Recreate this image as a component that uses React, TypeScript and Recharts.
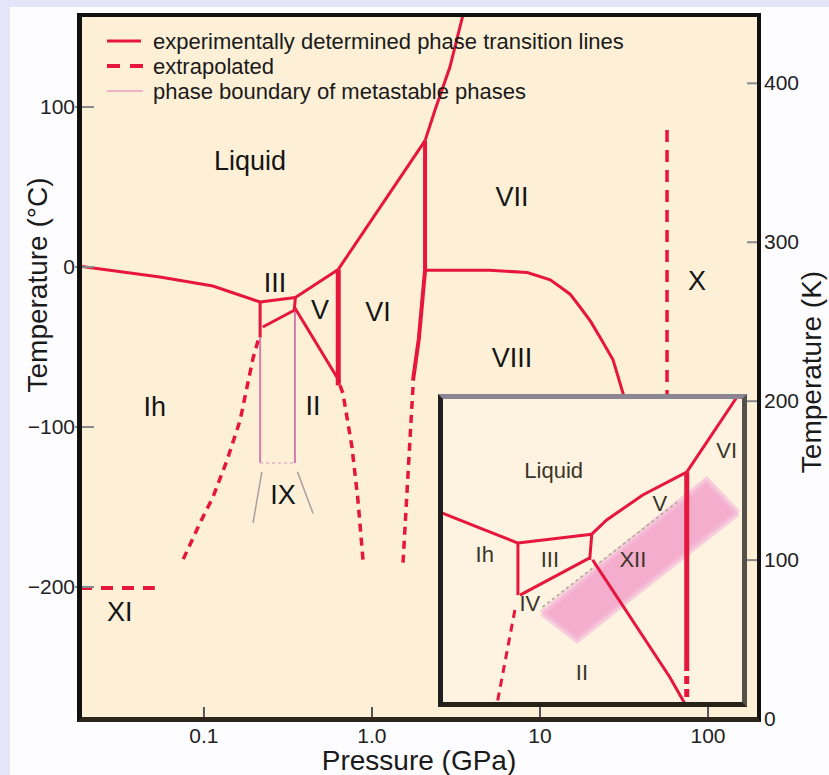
import React from "react";
import {
  ComposedChart,
  Line,
  Area,
  Scatter,
  XAxis,
  YAxis,
  CartesianGrid,
} from "recharts";

// main diagram: pressure (GPa, log) vs temperature (°C)
const ihLiquid = [[0.0183, 0.5], [0.0547, -6.3], [0.113, -11.9], [0.216, -21.9]];
const iiiLiquid = [[0.216, -21.9], [0.35, -19]];
const vLiquid = [[0.35, -19], [0.63, -1.5]];
const viLiquid = [[0.63, -1.5], [2.07, 79]];
const viiLiquid = [[2.07, 79], [2.37, 98], [2.91, 125], [3.48, 157.5]];
const ihIII = [[0.216, -21.9], [0.216, -44]];
const iiiII = [[0.224, -37.5], [0.345, -27]];
const iiiV = [[0.35, -19], [0.345, -27]];
const iiV = [[0.348, -25.6], [0.645, -72]];
const vVI = [[0.63, -1.5], [0.63, -74]];
const viVII = [[2.07, 79], [2.07, -2], [1.9, -45], [1.754, -71]];
const viiVIII = [
  [2.07, -2], [5, -2], [8.4, -3.5], [11.5, -8], [13.2, -12.5], [15.1, -17],
  [17.3, -25], [20, -34], [22.8, -44], [27.2, -58], [31.2, -79], [31.8, -82],
];

// extrapolated (dashed)
const ihIIext = [[0.21, -46], [0.196, -57], [0.164, -96], [0.137, -121], [0.113, -144], [0.0947, -160], [0.075, -183]];
const iiVIext = [[0.645, -74], [0.672, -79], [0.76, -112.5], [0.825, -145.6], [0.884, -183]];
const viiVIIIext = [[1.754, -75], [1.64, -128.75], [1.53, -185]];
const xBoundary = [[57, 85.6], [57, -82]];
const xiBoundary = [[0.0183, -200.6], [0.051, -200.6]];

// metastable boundaries (ice IX)
const ixLeft = [[0.216, -44], [0.216, -122.5]];
const ixRight = [[0.348, -27], [0.348, -122.5]];
const ixTop = [[0.216, -122.5], [0.348, -122.5]];
const ixLeftLow = [[0.221, -128], [0.196, -160]];
const ixRightLow = [[0.36, -128], [0.446, -154]];

const mainLabels: [string, number, number][] = [
  ["Liquid", 0.188, 66], ["III", 0.265, -10], ["V", 0.49, -27], ["VI", 1.086, -28],
  ["VII", 6.81, 44], ["VIII", 6.81, -57], ["X", 86, -9], ["Ih", 0.051, -87.5],
  ["II", 0.445, -87], ["IX", 0.295, -142.5], ["XI", 0.0316, -215.6],
];

// inset: pressure (GPa, log) vs temperature (K)
const inIhLiquid = [[0.1225, 261], [0.161, 256.2], [0.21, 251.6]];
const inIIILiquid = [[0.21, 251.6], [0.35, 254.3]];
const inVLiquid = [[0.35, 254.3], [0.388, 258.6], [0.498, 266.2], [0.675, 273.1]];
const inVILiquid = [[0.675, 273.1], [0.96, 296.2]];
const inIhIII = [[0.21, 251.6], [0.21, 235.8]];
const inIVIII = [[0.213, 235.8], [0.345, 247.1]];
const inIIIV = [[0.35, 254.3], [0.345, 246.5]];
const inIIV = [[0.352, 246.5], [0.6, 211], [0.67, 202.5]];
const inVVI = [[0.675, 273.1], [0.675, 215.2]];
const inVVIext = [[0.675, 215.2], [0.675, 202.5]];
const inIhIIext = [[0.2056, 231.3], [0.1815, 202.5]];
const inMetastable = [[0.249, 232.2], [0.643, 264.6]];
const xiiBand = [[0.248, 230.4, 230.4], [0.316, 222.2, 239.1], [0.775, 253.3, 270.7], [0.961, 260.7, 260.7]];

const insetLabels: [string, number, number][] = [
  ["Liquid", 0.269, 273.7], ["Ih", 0.167, 248], ["III", 0.262, 246.5], ["XII", 0.465, 246.5],
  ["V", 0.56, 263.7], ["VI", 0.89, 279.8], ["IV", 0.228, 233.4], ["II", 0.327, 212.5],
];

const pressureTicks = [0.1, 1, 10, 100];
const pressureTickLabels = ["0.1", "1.0", "10", "100"];
const celsiusTicks = [-200, -100, 0, 100];
const kelvinTicks = [0, 100, 200, 300, 400];
const legendLabels = [
  "experimentally determined phase transition lines",
  "extrapolated",
  "phase boundary of metastable phases",
];

const RED = "#e6163c";
const PINK = "#d67bb0";
const GREY = "#b39aa0";

const toPts = (rows: number[][]) => rows.map(([p, t]) => ({ p, t }));

const seg = (key: string, rows: number[][], stroke: string, width: number, dash?: string) => (
  <Line
    key={key}
    data={toPts(rows)}
    dataKey="t"
    type="linear"
    stroke={stroke}
    strokeWidth={width}
    strokeDasharray={dash}
    dot={false}
    activeDot={false}
    legendType="none"
    isAnimationActive={false}
  />
);

const fmtC = (v: number) => (v < 0 ? "\u2212" + Math.abs(v) : String(v));

const LeftTick = (props: any) => {
  const { x, y, payload } = props;
  return (
    <g>
      <line x1={x - 5} x2={x + 14} y1={y} y2={y} stroke="#8a8a8a" strokeWidth={2} />
      <text x={x - 5} y={y + 7} textAnchor="end" fontSize={21} fill="#222">
        {fmtC(payload.value)}
      </text>
    </g>
  );
};

const RightTick = (props: any) => {
  const { x, y, payload } = props;
  return (
    <g>
      <line x1={x - 12} x2={x} y1={y} y2={y} stroke="#8a8a8a" strokeWidth={2} />
      <text x={x + 5} y={y + 7} textAnchor="start" fontSize={21} fill="#222">
        {payload.value}
      </text>
    </g>
  );
};

const BottomTick = (props: any) => {
  const { x, y, payload } = props;
  const i = pressureTicks.indexOf(payload.value);
  return (
    <g>
      <line x1={x} x2={x} y1={y - 12} y2={y} stroke="#555" strokeWidth={2} />
      <text x={x} y={y + 24} textAnchor="middle" fontSize={21} fill="#222">
        {pressureTickLabels[i]}
      </text>
    </g>
  );
};

const labelShape = (size: number, color: string) => (props: any) => (
  <text
    x={props.cx}
    y={props.cy}
    textAnchor="middle"
    dominantBaseline="central"
    fontSize={size}
    fill={color}
  >
    {props.payload.name}
  </text>
);

const App = () => {
  const mainLabelData = mainLabels.map(([name, p, t]) => ({ name, p, t }));
  const insetLabelData = insetLabels.map(([name, p, t]) => ({ name, p, t }));
  const bandData = xiiBand.map(([p, lo, hi]) => ({ p, band: [lo, hi] }));
  // the kelvin scale carries no series of its own; an invisible line keeps its axis alive
  const kelvinAnchor = kelvinTicks.map((k) => ({ p: 1, k }));

  return (
    <div
      style={{
        position: "absolute",
        left: 0,
        top: 0,
        width: 829,
        height: 775,
        background: "#e5e5fa",
        overflow: "hidden",
        fontFamily: "'Liberation Sans', Arial, sans-serif",
      }}
    >
      <div style={{ position: "absolute", left: 10, top: 7, right: 0, bottom: 0, background: "#fdfdff" }} />

      {/* main phase diagram */}
      <div style={{ position: "absolute", left: 0, top: 0 }}>
        <ComposedChart width={829} height={775} margin={{ top: 15, right: 0, bottom: 0, left: 0 }}>
          <CartesianGrid fill="#fdf0d7" horizontal={false} vertical={false} />
          <XAxis
            dataKey="p"
            type="number"
            scale="log"
            domain={[0.0183, 201]}
            ticks={pressureTicks}
            interval={0}
            allowDataOverflow
            height={56}
            axisLine={false}
            tickLine={false}
            tickSize={0}
            tickMargin={0}
            tick={BottomTick}
          />
          <YAxis
            dataKey="t"
            type="number"
            domain={[-282.5, 157.5]}
            ticks={celsiusTicks}
            interval={0}
            allowDataOverflow
            width={80}
            axisLine={false}
            tickLine={false}
            tickSize={0}
            tickMargin={0}
            tick={LeftTick}
          />
          <YAxis
            yAxisId="k"
            orientation="right"
            type="number"
            domain={[0, 443]}
            ticks={kelvinTicks}
            interval={0}
            allowDataOverflow
            width={70}
            axisLine={false}
            tickLine={false}
            tickSize={0}
            tickMargin={0}
            tick={RightTick}
          />
          <Line
            yAxisId="k"
            data={kelvinAnchor}
            dataKey="k"
            stroke="none"
            dot={false}
            activeDot={false}
            legendType="none"
            isAnimationActive={false}
          />

          {seg("ixLeft", ixLeft, PINK, 2)}
          {seg("ixRight", ixRight, PINK, 2)}
          {seg("ixTop", ixTop, "#e4c4c8", 2, "3 3")}
          {seg("ixLeftLow", ixLeftLow, GREY, 1.5)}
          {seg("ixRightLow", ixRightLow, GREY, 1.5)}

          {seg("ihIIext", ihIIext, RED, 3.5, "8 6")}
          {seg("iiVIext", iiVIext, RED, 3.5, "8 6")}
          {seg("viiVIIIext", viiVIIIext, RED, 3.5, "8 6")}
          {seg("xBoundary", xBoundary, RED, 3.5, "12 8")}
          {seg("xiBoundary", xiBoundary, RED, 4, "12 9")}

          {seg("ihLiquid", ihLiquid, RED, 3)}
          {seg("iiiLiquid", iiiLiquid, RED, 3)}
          {seg("vLiquid", vLiquid, RED, 3)}
          {seg("viLiquid", viLiquid, RED, 3)}
          {seg("viiLiquid", viiLiquid, RED, 3)}
          {seg("ihIII", ihIII, RED, 3)}
          {seg("iiiII", iiiII, RED, 3)}
          {seg("iiiV", iiiV, RED, 3)}
          {seg("iiV", iiV, RED, 3)}
          {seg("vVI", vVI, RED, 5)}
          {seg("viVII", viVII, RED, 4)}
          {seg("viiVIII", viiVIII, RED, 3)}

          <Scatter data={mainLabelData} isAnimationActive={false} shape={labelShape(27, "#151515")} />
        </ComposedChart>
      </div>

      {/* legend and axis titles */}
      <svg width={829} height={775} style={{ position: "absolute", left: 0, top: 0, pointerEvents: "none" }}>
        <line x1={107} x2={141} y1={41} y2={41} stroke={RED} strokeWidth={3} />
        <line x1={107} x2={143} y1={66} y2={66} stroke={RED} strokeWidth={4} strokeDasharray="13 10" />
        <line x1={107} x2={143} y1={91} y2={91} stroke="#f0b2c4" strokeWidth={2} />
        {legendLabels.map((label, i) => (
          <text key={label} x={153} y={49 + i * 25} fontSize={22} fill="#1a1a1a">
            {label}
          </text>
        ))}
        <text x={419} y={770} textAnchor="middle" fontSize={28} fill="#1a1a1a">
          Pressure (GPa)
        </text>
        <text
          x={0}
          y={0}
          transform="translate(47 285) rotate(-90)"
          textAnchor="middle"
          fontSize={28}
          fill="#1a1a1a"
        >
          Temperature (°C)
        </text>
        <text
          x={0}
          y={0}
          transform="translate(821 372) rotate(-90)"
          textAnchor="middle"
          fontSize={28}
          fill="#1a1a1a"
        >
          Temperature (K)
        </text>
      </svg>

      {/* inset */}
      <div style={{ position: "absolute", left: 440, top: 396 }}>
        <ComposedChart width={305} height={309} margin={{ top: 0, right: 0, bottom: 0, left: 0 }}>
          <CartesianGrid fill="#fdf3e0" horizontal={false} vertical={false} />
          <XAxis dataKey="p" type="number" scale="log" domain={[0.1225, 1.01]} hide allowDataOverflow />
          <YAxis dataKey="t" type="number" domain={[202.5, 296.2]} hide allowDataOverflow />
          <Area
            data={bandData}
            dataKey="band"
            type="linear"
            stroke="#f5bcd8"
            strokeWidth={6}
            strokeOpacity={0.7}
            fill="#ef8fc4"
            fillOpacity={0.7}
            dot={false}
            activeDot={false}
            isAnimationActive={false}
          />
          {seg("inMetastable", inMetastable, "#a8a890", 1.5, "3 3")}
          {seg("inIhIIext", inIhIIext, RED, 3, "8 6")}
          {seg("inVVIext", inVVIext, RED, 5, "8 5")}
          {seg("inIhLiquid", inIhLiquid, RED, 3)}
          {seg("inIIILiquid", inIIILiquid, RED, 3)}
          {seg("inVLiquid", inVLiquid, RED, 3)}
          {seg("inVILiquid", inVILiquid, RED, 3)}
          {seg("inIhIII", inIhIII, RED, 3)}
          {seg("inIVIII", inIVIII, RED, 3)}
          {seg("inIIIV", inIIIV, RED, 3)}
          {seg("inIIV", inIIV, RED, 3)}
          {seg("inVVI", inVVI, RED, 5)}
          <Scatter data={insetLabelData} isAnimationActive={false} shape={labelShape(22, "#3a3528")} />
        </ComposedChart>
      </div>

      {/* frames */}
      <div
        style={{
          position: "absolute",
          left: 77,
          top: 13,
          width: 684,
          height: 709,
          boxSizing: "border-box",
          borderStyle: "solid",
          borderWidth: "4px 4px 5px 5px",
          borderColor: "#111 #111 #2d261c #111",
          pointerEvents: "none",
        }}
      />
      <div
        style={{
          position: "absolute",
          left: 438,
          top: 394,
          width: 309,
          height: 313,
          boxSizing: "border-box",
          borderStyle: "solid",
          borderWidth: 5,
          borderColor: "#8d8494 #55504a #262218 #1f1f1f",
          pointerEvents: "none",
        }}
      />
    </div>
  );
};

export default App;
